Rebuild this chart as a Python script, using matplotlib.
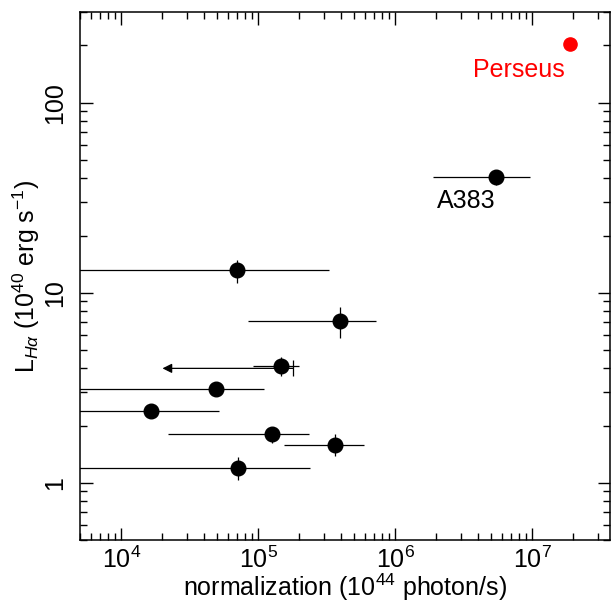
import matplotlib
matplotlib.use('Agg')
import matplotlib.pyplot as plt

plt.rcParams['font.family'] = ['Liberation Sans', 'DejaVu Sans']
plt.rcParams['mathtext.fontset'] = 'custom'
plt.rcParams['mathtext.rm'] = 'Liberation Sans'
plt.rcParams['mathtext.it'] = 'Liberation Sans:italic'

# clusters: normalization (1e44 photon/s) and L_Halpha (1e40 erg/s)
norm = [7.0e4, 3.98e5, 1.46e5, 4.88e4, 1.65e4, 1.27e5, 3.65e5, 7.17e4, 5.48e6]
norm_lo = [1.0e3, 8.4e4, 9.2e4, 1.0e3, 1.0e3, 2.18e4, 1.55e5, 1.0e3, 1.9e6]
norm_hi = [3.27e5, 7.26e5, 1.98e5, 1.1e5, 5.2e4, 2.35e5, 5.96e5, 2.37e5, 9.6e6]
lha = [13.1, 7.12, 4.11, 3.10, 2.39, 1.80, 1.585, 1.198, 40.5]
lha_lo = [11.3, 5.8, 3.65, 2.95, 2.39, 1.61, 1.39, 1.04, 37.0]
lha_hi = [14.8, 8.4, 4.58, 3.25, 2.39, 1.97, 1.81, 1.36, 44.0]

# upper limit on normalization
ul_x = 1.79e5
ul_to = 2.0e4
ul_y = 4.0

perseus_x = 1.9e7
perseus_y = 204.0

xerr = [[n - l for n, l in zip(norm, norm_lo)], [h - n for n, h in zip(norm, norm_hi)]]
yerr = [[y - l for y, l in zip(lha, lha_lo)], [h - y for y, h in zip(lha, lha_hi)]]

fig = plt.figure(figsize=(6.11, 6.03), dpi=100)
ax = fig.add_axes([80 / 611, 63 / 603, 530 / 611, 528 / 603])

ax.errorbar(norm, lha, xerr=xerr, yerr=yerr, fmt='o', color='black',
            ms=10.5, elinewidth=0.9, capsize=0, zorder=3)

ax.annotate('', xy=(ul_to, ul_y), xytext=(ul_x, ul_y),
            arrowprops=dict(arrowstyle='-|>', color='black', lw=0.9,
                            mutation_scale=14, shrinkA=0, shrinkB=0))
ax.plot([ul_x], [ul_y], marker='|', color='black', ms=12, mew=0.9)

ax.plot([perseus_x], [perseus_y], 'o', color='red', ms=9.5)
ax.text(8.0e6, 148, 'Perseus', color='red', fontsize=18, ha='center', va='center')
ax.text(3.3e6, 30.3, 'A383', color='black', fontsize=18, ha='center', va='center')

ax.set_xscale('log')
ax.set_yscale('log')
ax.set_xlim(5e3, 3.7e7)
ax.set_ylim(0.5, 300)

ax.set_xlabel('normalization (10$^{44}$ photon/s)', fontsize=18, labelpad=-1)
ax.set_ylabel(r'L$_{H\alpha}$ (10$^{40}$ erg s$^{-1}$)', fontsize=18, labelpad=1)

ax.tick_params(which='both', direction='in', top=True, right=True, labelsize=18, width=1)
ax.tick_params(which='major', length=9)
ax.tick_params(which='minor', length=5)
ax.tick_params(axis='x', pad=5)
ax.tick_params(axis='y', pad=9)
ax.set_yticks([1, 10, 100])
ax.set_yticklabels(['1', '10', '100'], rotation=90, va='center')
for s in ax.spines.values():
    s.set_linewidth(1.1)

fig.savefig('out.png', dpi=100)
